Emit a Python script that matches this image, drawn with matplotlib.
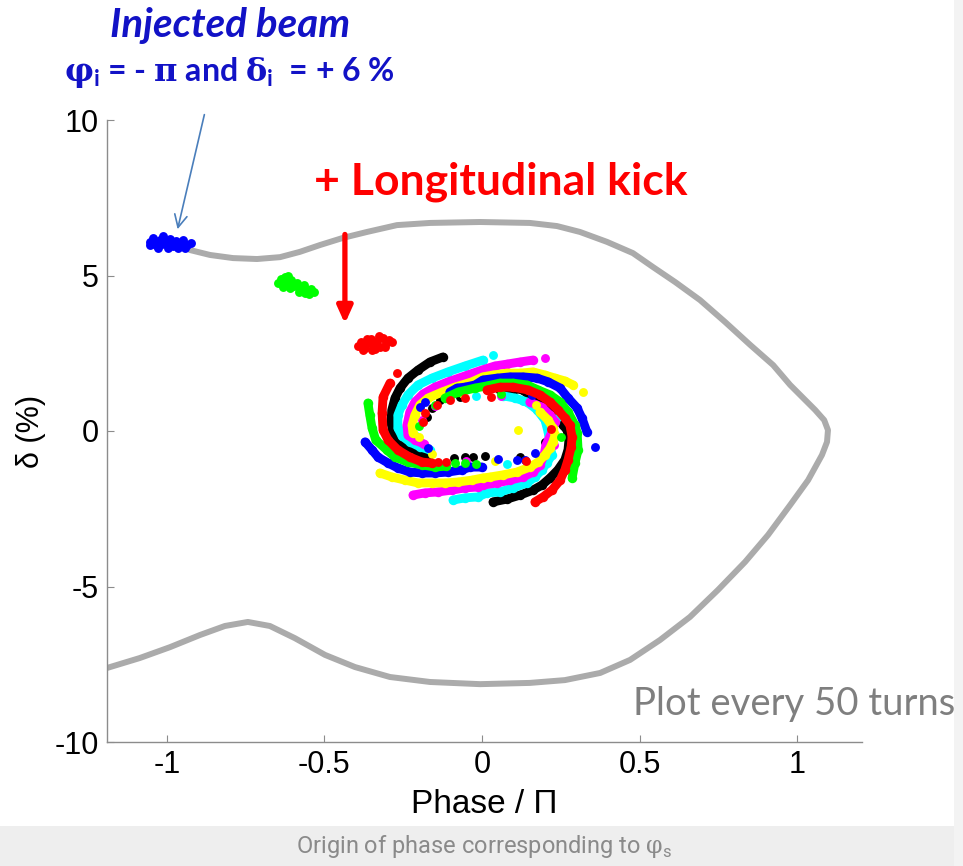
import matplotlib
matplotlib.use("Agg")
import matplotlib.pyplot as plt
from matplotlib.patches import Rectangle
import numpy as np


plt.rcParams['mathtext.fontset'] = 'custom'
plt.rcParams['mathtext.rm'] = 'DejaVu Serif'
plt.rcParams['mathtext.bf'] = 'DejaVu Serif:bold'

# separatrix of the bucket (phase / pi, delta in %)
sep_upper = [(-0.927, 5.82), (-0.863, 5.66), (-0.790, 5.56), (-0.714, 5.53), (-0.641, 5.59),
             (-0.578, 5.76), (-0.514, 5.98), (-0.441, 6.21), (-0.365, 6.40), (-0.270, 6.62),
             (-0.165, 6.69), (-0.006, 6.72), (0.152, 6.69), (0.238, 6.59), (0.311, 6.40),
             (0.397, 6.08), (0.479, 5.72), (0.543, 5.27), (0.613, 4.79), (0.692, 4.21),
             (0.771, 3.51), (0.851, 2.77), (0.924, 2.12), (0.978, 1.48), (1.057, 0.68),
             (1.086, 0.35), (1.098, 0.03)]
sep_lower = [(1.098, 0.03), (1.095, -0.35), (1.079, -0.77), (1.035, -1.58), (0.978, -2.38),
             (0.908, -3.34), (0.835, -4.21), (0.749, -5.11), (0.660, -5.98), (0.565, -6.72),
             (0.470, -7.36), (0.375, -7.78), (0.263, -8.01), (0.152, -8.10), (-0.006, -8.14),
             (-0.165, -8.07), (-0.292, -7.91), (-0.403, -7.59), (-0.498, -7.20), (-0.594, -6.66),
             (-0.673, -6.27), (-0.743, -6.14), (-0.816, -6.27), (-0.895, -6.56), (-0.990, -6.95),
             (-1.086, -7.30), (-1.190, -7.62)]

# first three snapshots: still compact bunches
inj_blue = [(-1.054, 6.08), (-1.044, 6.21), (-1.035, 5.98), (-1.022, 6.14), (-1.013, 6.27),
            (-1.003, 6.05), (-0.990, 6.17), (-0.981, 5.95), (-0.971, 6.11), (-0.959, 6.01),
            (-0.949, 6.14), (-0.937, 5.98), (-0.924, 6.05), (-1.029, 5.88), (-0.997, 5.88),
            (-0.965, 5.88), (-0.943, 5.88), (-1.054, 5.98), (-1.016, 6.01), (-0.984, 6.08)]
turn50_green = [(-0.648, 4.76), (-0.638, 4.89), (-0.625, 4.95), (-0.619, 4.73), (-0.606, 4.86),
                (-0.597, 4.66), (-0.587, 4.76), (-0.578, 4.60), (-0.565, 4.69), (-0.556, 4.53),
                (-0.543, 4.57), (-0.533, 4.47), (-0.610, 4.60), (-0.581, 4.47), (-0.632, 4.63),
                (-0.562, 4.44), (-0.616, 4.98), (-0.549, 4.41)]
turn100_red = [(-0.394, 2.73), (-0.384, 2.86), (-0.371, 2.67), (-0.362, 2.83), (-0.352, 2.96),
               (-0.343, 2.77), (-0.333, 2.89), (-0.324, 2.70), (-0.314, 2.99), (-0.305, 2.83),
               (-0.295, 2.93), (-0.286, 2.86), (-0.378, 2.60), (-0.349, 2.60), (-0.327, 3.05),
               (-0.308, 2.70), (-0.365, 2.96), (-0.340, 2.64)]

# filamented snapshots: arcs of each colour, plus loose particles near the core
arcs_black = [
    [(-0.124, 2.38), (-0.165, 2.22), (-0.203, 1.96), (-0.235, 1.70), (-0.260, 1.38), (-0.276, 1.06),
     (-0.286, 0.68), (-0.289, 0.29), (-0.283, -0.03), (-0.270, -0.29), (-0.244, -0.48),
     (-0.219, -0.64), (-0.194, -0.77), (-0.171, -0.84)],
    [(0.035, -2.28), (0.079, -2.19), (0.121, -2.06), (0.162, -1.90), (0.190, -1.74), (0.216, -1.51),
     (0.241, -1.25), (0.263, -0.93), (0.273, -0.61), (0.276, -0.29), (0.270, 0.03), (0.257, 0.19),
     (0.232, 0.51), (0.206, 0.74), (0.168, 1.00), (0.130, 1.32), (0.095, 1.38), (0.057, 1.32)],
]
core_black = [(-0.054, -0.84), (-0.029, -0.84), (0.010, -0.80), (-0.159, 0.74), (-0.175, 0.45),
              (-0.133, 1.00), (-0.070, 1.10), (0.100, 1.15), (0.220, 0.25), (0.200, -0.35),
              (0.120, -0.85), (-0.090, -0.86)]
arcs_cyan = [
    [(0.003, 2.28), (-0.054, 2.09), (-0.108, 1.90), (-0.159, 1.70), (-0.203, 1.48), (-0.235, 1.16),
     (-0.254, 0.84), (-0.267, 0.51), (-0.267, 0.10), (-0.254, -0.16), (-0.229, -0.35),
     (-0.197, -0.51), (-0.165, -0.61)],
    [(-0.092, -2.22), (-0.054, -2.15), (-0.013, -2.12), (0.016, -1.99), (0.057, -1.96), (0.098, -1.83),
     (0.143, -1.67), (0.168, -1.48), (0.190, -1.25), (0.206, -1.03), (0.222, -0.77), (0.216, -0.45),
     (0.210, -0.03), (0.200, 0.35), (0.175, 0.68), (0.143, 0.93), (0.105, 1.06), (0.067, 1.13)],
]
core_cyan = [(0.035, 2.44), (-0.110, 1.10), (-0.210, -0.15), (0.080, -1.05), (0.240, 0.45),
             (0.130, 0.96), (-0.020, 1.12)]
arcs_magenta = [
    [(0.162, 2.28), (0.121, 2.22), (0.079, 2.15), (0.041, 2.09), (0.0, 1.96), (-0.054, 1.77),
     (-0.108, 1.58), (-0.149, 1.41), (-0.187, 1.19), (-0.213, 0.93), (-0.229, 0.61), (-0.238, 0.19),
     (-0.235, -0.13), (-0.213, -0.29), (-0.184, -0.42)],
    [(-0.219, -2.06), (-0.181, -1.99), (-0.140, -1.96), (-0.095, -1.90), (-0.054, -1.83),
     (-0.013, -1.80), (0.003, -1.74), (0.048, -1.67), (0.089, -1.58), (0.130, -1.48), (0.162, -1.32),
     (0.184, -1.09), (0.197, -0.77), (0.203, -0.45), (0.222, -0.03), (0.232, 0.29), (0.216, 0.51),
     (0.190, 0.77), (0.152, 0.93)],
]
core_magenta = [(0.200, 2.35), (-0.190, 0.35), (-0.050, -0.95), (0.230, -0.45), (-0.150, 0.80),
                (0.060, 1.14)]
arcs_yellow = [
    [(0.289, 1.48), (0.263, 1.61), (0.232, 1.70), (0.200, 1.80), (0.162, 1.90), (0.121, 1.86),
     (0.079, 1.86), (0.035, 1.80), (0.003, 1.74), (-0.032, 1.58), (-0.086, 1.41), (-0.127, 1.25),
     (-0.171, 1.06), (-0.197, 0.84), (-0.213, 0.51), (-0.222, 0.19), (-0.219, -0.06)],
    [(-0.324, -1.35), (-0.286, -1.48), (-0.244, -1.58), (-0.203, -1.67), (-0.159, -1.67),
     (-0.117, -1.67), (-0.076, -1.64), (-0.032, -1.58), (0.003, -1.51), (0.025, -1.48), (0.067, -1.41),
     (0.111, -1.32), (0.152, -1.16), (0.178, -1.00), (0.200, -0.77), (0.216, -0.55), (0.225, -0.35),
     (0.232, -0.13), (0.225, 0.10), (0.210, 0.35), (0.184, 0.61)],
]
core_yellow = [(0.321, 1.25), (0.114, 0.03), (-0.060, 1.18), (-0.160, -0.75), (0.040, -0.95),
               (0.170, 0.85), (-0.200, -0.20)]
arcs_blue = [
    [(-0.371, -0.35), (-0.349, -0.61), (-0.330, -0.84), (-0.298, -1.03), (-0.267, -1.19),
     (-0.229, -1.32), (-0.190, -1.35), (-0.149, -1.35), (-0.108, -1.32), (-0.063, -1.25),
     (-0.038, -1.16), (0.0, -1.16)],
    [(0.333, -0.03), (0.317, 0.42), (0.302, 0.74), (0.273, 1.06), (0.248, 1.38), (0.210, 1.58),
     (0.175, 1.70), (0.130, 1.74), (0.089, 1.74), (0.048, 1.70), (0.003, 1.64), (-0.022, 1.48),
     (-0.054, 1.41), (-0.079, 1.38), (-0.102, 1.25)],
]
core_blue = [(0.111, -0.93), (0.137, -0.93), (0.168, -0.71), (0.359, -0.51), (-0.181, 0.93),
             (-0.197, 0.77), (-0.170, -0.55), (0.160, 1.15), (0.050, -0.90)]
arcs_green = [
    [(-0.362, 0.90), (-0.356, 0.51), (-0.349, 0.10), (-0.337, -0.29), (-0.302, -0.61), (-0.276, -0.84),
     (-0.235, -1.00), (-0.190, -1.09), (-0.149, -1.16), (-0.114, -1.13)],
    [(0.286, -1.51), (0.295, -1.03), (0.305, -0.61), (0.302, -0.06), (0.295, 0.19), (0.273, 0.61),
     (0.248, 0.93), (0.216, 1.16), (0.178, 1.32), (0.143, 1.48), (0.098, 1.54), (0.057, 1.54),
     (0.016, 1.45), (-0.022, 1.38), (-0.076, 1.25), (-0.117, 1.06)],
]
core_green = [(-0.086, -1.03), (-0.054, -1.03), (-0.149, 0.84), (-0.200, 0.15), (-0.020, -1.05),
              (0.250, -0.20), (0.060, 1.20)]
arcs_red = [
    [(-0.292, 1.54), (-0.314, 1.09), (-0.317, 0.58), (-0.314, 0.03), (-0.298, -0.29), (-0.267, -0.61),
     (-0.229, -0.84), (-0.190, -1.00), (-0.159, -1.03)],
    [(0.168, -2.28), (0.194, -2.12), (0.222, -1.90), (0.248, -1.58), (0.263, -1.25), (0.273, -0.93),
     (0.283, -0.51), (0.286, -0.19), (0.279, 0.19), (0.263, 0.42), (0.241, 0.68), (0.216, 0.93),
     (0.184, 1.16), (0.146, 1.32), (0.098, 1.41), (0.057, 1.41), (0.016, 1.32)],
]
core_red = [(-0.270, 1.86), (-0.140, -1.00), (-0.114, -1.00), (-0.054, 1.06), (-0.102, 1.00),
            (-0.143, 0.84), (-0.181, 0.58), (-0.187, 0.29), (0.030, 1.10), (0.140, -0.95),
            (0.220, 0.05)]

xticks = [-1, -0.5, 0, 0.5, 1]
xticklabels = ['-1', '-0.5', '0', '0.5', '1']
yticks = [-10, -5, 0, 5, 10]
yticklabels = ['-10', '-5', '0', '5', '10']

W, H = 963, 866
fig = plt.figure(figsize=(W / 100, H / 100), dpi=100)
fig.patch.set_facecolor('white')

# light slide background at the bottom and right edge
fig.patches.append(Rectangle((0, 0), 1, 40 / H, transform=fig.transFigure,
                             facecolor='#eeeeee', edgecolor='none', zorder=0))
fig.patches.append(Rectangle((954 / W, 0), 9 / W, 1, transform=fig.transFigure,
                             facecolor='#f3f3f3', edgecolor='none', zorder=0))

ax = fig.add_axes([107 / W, 1 - 742 / H, (862 - 107) / W, (742 - 120) / H])
ax.set_facecolor('none')

sx, sy = zip(*(sep_upper + sep_lower[1:]))
ax.plot(sx, sy, color='#ababab', lw=4.3, solid_capstyle='round', solid_joinstyle='round', zorder=1)

GREEN, CYAN, MAGENTA, YELLOW = '#00ff00', '#00ffff', '#ff00ff', '#ffff00'
ms = 6.4
for pts, c in [(inj_blue, 'b'), (turn50_green, GREEN), (turn100_red, 'r')]:
    px, py = zip(*pts)
    ax.plot(px, py, 'o', color=c, ms=ms, mec='none', zorder=3)

snapshots = [(arcs_black, core_black, 'k'), (arcs_cyan, core_cyan, CYAN),
             (arcs_magenta, core_magenta, MAGENTA), (arcs_yellow, core_yellow, YELLOW),
             (arcs_blue, core_blue, 'b'), (arcs_green, core_green, GREEN),
             (arcs_red, core_red, 'r')]
for arcs, core, c in snapshots:
    for arc in arcs:
        px, py = zip(*arc)
        ax.plot(px, py, '-o', color=c, lw=ms, ms=ms + 0.4, mec='none',
                solid_capstyle='round', solid_joinstyle='round', zorder=3)
    px, py = zip(*core)
    ax.plot(px, py, 'o', color=c, ms=ms, mec='none', zorder=3)

ax.set_xlim(-1.19, 1.206)
ax.set_ylim(-10, 10)
ax.set_xticks(xticks)
ax.set_xticklabels(xticklabels)
ax.set_yticks(yticks)
ax.set_yticklabels(yticklabels)

for side in ['top', 'right']:
    ax.spines[side].set_visible(False)
for side in ['left', 'bottom']:
    ax.spines[side].set_color('#8c8c8c')
    ax.spines[side].set_linewidth(1.0)

tick_family = ['Liberation Sans', 'DejaVu Sans']
ax.tick_params(direction='in', length=5, width=0.8, color='#8c8c8c', pad=6)
for lab in ax.get_xticklabels() + ax.get_yticklabels():
    lab.set_fontfamily(tick_family)
    lab.set_fontsize(22)

ax.set_xlabel('Phase / \u03a0', fontfamily=tick_family, fontsize=24, labelpad=6)
ax.set_ylabel('\u03b4 (%)', fontfamily=tick_family, fontsize=22, labelpad=6)

# annotations
blue_txt = '#1212c6'
fig.text(230 / W, 1 - 25 / H, 'Injected beam', color=blue_txt, fontsize=29,
         fontweight='bold', fontstyle='italic', family='Lato', ha='center', va='center')
fig.text(229 / W, 1 - 72 / H,
         r'$\mathbf{\varphi}_\mathregular{i}$ = - $\mathbf{\pi}$ and $\mathbf{\delta}_\mathregular{i}$  = + 6 %',
         color=blue_txt, fontsize=23, fontweight='bold', family='Lato', ha='center', va='center')
ax.annotate('', xy=(-0.968, 6.40), xytext=(-0.879, 10.26), annotation_clip=False,
            arrowprops=dict(arrowstyle='->,head_length=0.9,head_width=0.45', color='#4a7ebb', lw=1.2))

fig.text(501 / W, 1 - 182 / H, '+ Longitudinal kick', color='#ff0000', fontsize=32,
         fontweight='bold', family='Lato', ha='center', va='center')
ax.annotate('', xy=(-0.435, 3.45), xytext=(-0.435, 6.32), annotation_clip=False,
            arrowprops=dict(arrowstyle='-|>,head_length=1.0,head_width=0.45', color='#ff0000',
                            lw=3.8, shrinkA=0, shrinkB=0))

fig.text(794 / W, 1 - 704 / H, 'Plot every 50 turns', color='#7f7f7f', fontsize=27.5,
         family='Lato', ha='center', va='center')
fig.text(484 / W, 1 - 847 / H, r'Origin of phase corresponding to $\mathrm{\varphi}_\mathregular{s}$',
         color='#8a8a8a', fontsize=17, family=['Liberation Sans Narrow', 'Roboto'],
         ha='center', va='center')

fig.savefig('out.png', dpi=100, facecolor=fig.get_facecolor())
